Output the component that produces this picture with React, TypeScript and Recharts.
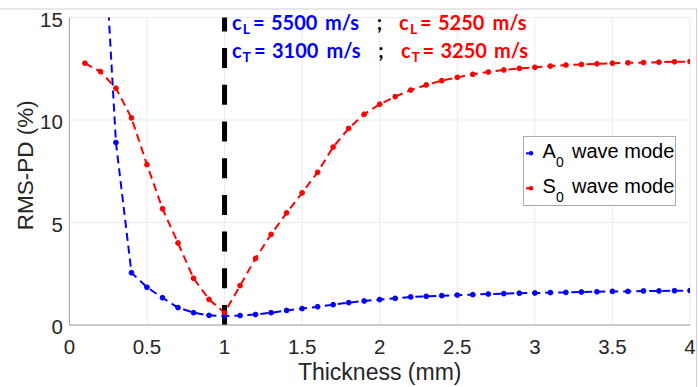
import React from 'react';
import { LineChart, Line, XAxis, YAxis, CartesianGrid, ReferenceLine, Legend } from 'recharts';

// Thickness steps (mm) and RMS-PD (%) for each guided wave mode
const thicknessA0 = [
  0.2, 0.3, 0.4, 0.5, 0.6, 0.7, 0.8, 0.9, 1.0, 1.1, 1.2, 1.3, 1.4, 1.5, 1.6, 1.7, 1.8, 1.9, 2.0, 2.1,
  2.2, 2.3, 2.4, 2.5, 2.6, 2.7, 2.8, 2.9, 3.0, 3.1, 3.2, 3.3, 3.4, 3.5, 3.6, 3.7, 3.8, 3.9, 4.0,
];
const rmsA0 = [
  22.2, 8.9, 2.55, 1.84, 1.33, 0.85, 0.6, 0.47, 0.44, 0.46, 0.51, 0.6, 0.71, 0.8, 0.89, 0.99, 1.09, 1.17, 1.24, 1.3,
  1.37, 1.4, 1.43, 1.46, 1.48, 1.51, 1.53, 1.55, 1.56, 1.58, 1.59, 1.61, 1.62, 1.64, 1.64, 1.66, 1.66, 1.67, 1.68,
];

const thicknessS0 = [
  0.1, 0.2, 0.3, 0.4, 0.5, 0.6, 0.7, 0.8, 0.9, 1.0, 1.1, 1.2, 1.3, 1.4, 1.5, 1.6, 1.7, 1.8, 1.9, 2.0,
  2.1, 2.2, 2.3, 2.4, 2.5, 2.6, 2.7, 2.8, 2.9, 3.0, 3.1, 3.2, 3.3, 3.4, 3.5, 3.6, 3.7, 3.8, 3.9, 4.0,
];
const rmsS0 = [
  12.77, 12.36, 11.55, 10.1, 7.82, 5.67, 4.0, 2.28, 1.25, 0.6, 1.92, 3.25, 4.42, 5.47, 6.45, 7.45, 8.68, 9.59, 10.28, 10.77,
  11.14, 11.46, 11.71, 11.92, 12.08, 12.23, 12.34, 12.44, 12.52, 12.57, 12.63, 12.68, 12.71, 12.74, 12.77, 12.79, 12.8, 12.82, 12.84, 12.85,
];

const xTicks = [0, 0.5, 1, 1.5, 2, 2.5, 3, 3.5, 4];
const yTicks = [0, 5, 10, 15];
const optimumThickness = 1;

const BLUE = '#0000ff';
const RED = '#ff0000';
const AXIS_FONT = '"Liberation Sans", Arial, sans-serif';
const NOTE_FONT = 'Lato, "Open Sans", sans-serif';

const a0Data = thicknessA0.map((x, i) => ({ x, y: rmsA0[i] }));
const s0Data = thicknessS0.map((x, i) => ({ x, y: rmsS0[i] }));

const XTick = ({ x, y, payload }: any) => (
  <text x={x} y={y} dy={20.5} textAnchor="middle" fill="#262626" fontSize={20.5} fontFamily={AXIS_FONT}>
    {payload.value}
  </text>
);

const YTick = ({ x, y, payload }: any) => (
  <text x={x + 1.5} y={y} dy={9} textAnchor="end" fill="#262626" fontSize={20.5} fontFamily={AXIS_FONT}>
    {payload.value}
  </text>
);

const YLabel = ({ viewBox }: any) => {
  const cy = viewBox.y + viewBox.height / 2 - 6;
  return (
    <text
      transform={`translate(33, ${cy}) rotate(-90)`}
      textAnchor="middle"
      fill="#262626"
      fontSize={22.5}
      fontFamily={AXIS_FONT}
    >
      RMS-PD (%)
    </text>
  );
};

const LegendRow = ({ y, color, letter }: { y: number; color: string; letter: string }) => (
  <g>
    <line x1={3} x2={10} y1={y} y2={y} stroke={color} strokeWidth={2} />
    <circle cx={8} cy={y} r={2.3} fill={color} />
    <text y={y + 5} fontSize={20} fontFamily={AXIS_FONT} fill="#000">
      <tspan x={19.4}>{letter}</tspan>
      <tspan x={33} dy={8.5} fontSize={14}>0</tspan>
      <tspan x={49} dy={-8.5}>wave mode</tspan>
    </text>
  </g>
);

const LegendBox = () => (
  <svg width={153} height={71} style={{ display: 'block' }}>
    <rect x={0.5} y={0.5} width={152} height={69} fill="#fff" stroke="#ababab" />
    <LegendRow y={17.3} color={BLUE} letter="A" />
    <LegendRow y={52.3} color={RED} letter="S" />
  </svg>
);

// Frame edges and the longitudinal / transverse velocity notes above the plot
const VelocityNotes = () => (
  <svg
    width={698}
    height={387}
    style={{ position: 'absolute', left: 0, top: 0, pointerEvents: 'none' }}
  >
    <line x1={0} x2={697} y1={9} y2={9} stroke="#cfcfcf" />
    <line x1={696.5} x2={696.5} y1={9} y2={387} stroke="#cfcfcf" />
    <g fontFamily={NOTE_FONT} fontWeight={700} fontSize={20}>
      <text y={29.5} fill={BLUE}>
        <tspan x={232}>c</tspan>
        <tspan x={242.8} dy={4} fontSize={14}>L</tspan>
        <tspan x={253} dy={-4}>=</tspan>
        <tspan x={271}>5500</tspan>
        <tspan x={325}>m/s</tspan>
      </text>
      <text x={376.7} y={29.5} fill="#000">;</text>
      <text y={29.5} fill={RED}>
        <tspan x={399}>c</tspan>
        <tspan x={410} dy={4} fontSize={14}>L</tspan>
        <tspan x={420} dy={-4}>=</tspan>
        <tspan x={438}>5250</tspan>
        <tspan x={492.5}>m/s</tspan>
      </text>
      <text y={57.5} fill={BLUE}>
        <tspan x={232}>c</tspan>
        <tspan x={242.5} dy={4} fontSize={14}>T</tspan>
        <tspan x={254} dy={-4}>=</tspan>
        <tspan x={272}>3100</tspan>
        <tspan x={326.5}>m/s</tspan>
      </text>
      <text x={378.3} y={57.5} fill="#000">;</text>
      <text y={57.5} fill={RED}>
        <tspan x={401}>c</tspan>
        <tspan x={411.5} dy={4} fontSize={14}>T</tspan>
        <tspan x={422.5} dy={-4}>=</tspan>
        <tspan x={440.5}>3250</tspan>
        <tspan x={494}>m/s</tspan>
      </text>
    </g>
  </svg>
);

export default function App() {
  return (
    <div style={{ position: 'absolute', left: 0, top: 0, width: 698, height: 387, background: '#fff' }}>
      <LineChart width={698} height={387} margin={{ top: 17.5, right: 8, bottom: 0, left: 0 }}>
        <CartesianGrid stroke="#ebebeb" strokeWidth={1} />
        <XAxis
          type="number"
          dataKey="x"
          domain={[0, 4]}
          ticks={xTicks}
          allowDataOverflow
          height={62}
          tickLine={false}
          axisLine={{ stroke: '#a0a0a0' }}
          tick={<XTick />}
          label={{
            value: 'Thickness (mm)',
            position: 'insideBottom',
            offset: 7,
            fill: '#262626',
            fontSize: 23,
            fontFamily: AXIS_FONT,
          }}
        />
        <YAxis
          type="number"
          domain={[0, 15]}
          ticks={yTicks}
          allowDataOverflow
          width={69.4}
          tickLine={false}
          axisLine={{ stroke: '#a0a0a0' }}
          tick={<YTick />}
          label={{ content: <YLabel /> }}
        />
        <Line
          data={a0Data}
          dataKey="y"
          stroke={BLUE}
          strokeWidth={2}
          strokeDasharray="8 5"
          dot={{ r: 2.4, fill: BLUE, stroke: BLUE, strokeWidth: 1, strokeDasharray: '' }}
          isAnimationActive={false}
        />
        <Line
          data={s0Data}
          dataKey="y"
          stroke={RED}
          strokeWidth={2}
          strokeDasharray="8 5"
          dot={{ r: 2.4, fill: RED, stroke: RED, strokeWidth: 1, strokeDasharray: '' }}
          isAnimationActive={false}
        />
        <ReferenceLine x={optimumThickness} stroke="#000" strokeWidth={5} strokeDasharray="20 16.7" />
        <Legend
          layout="horizontal"
          verticalAlign="middle"
          align="center"
          wrapperStyle={{ left: 523, top: 136, width: 153, height: 71 }}
          content={() => <LegendBox />}
        />
      </LineChart>
      <VelocityNotes />
    </div>
  );
}
